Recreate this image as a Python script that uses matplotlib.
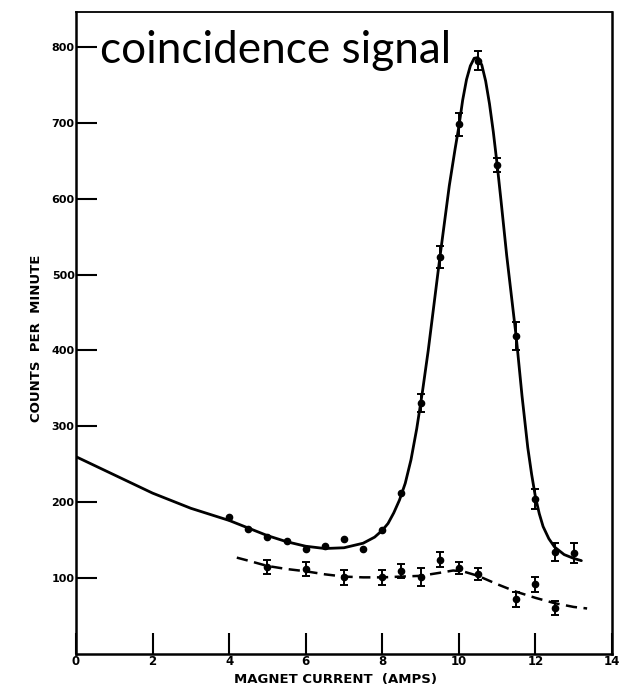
import matplotlib
matplotlib.use("Agg")
import matplotlib.pyplot as plt

# ---- data ----
# coincidence signal points (filled circles)
sig_x = [4, 4.5, 5, 5.5, 6, 6.5, 7, 7.5, 8, 8.5, 9, 9.5, 10, 10.5, 11, 11.5, 12, 12.5, 13]
sig_y = [180, 165, 154, 149, 138, 142, 152, 138, 163, 212, 331, 523, 698, 782, 644, 419, 204, 134, 133]
# points with error bars (x >= 9)
sig_err_x = [9, 9.5, 10, 10.5, 11, 11.5, 12, 12.5, 13]
sig_err_y = [331, 523, 698, 782, 644, 419, 204, 134, 133]
sig_err = [12, 14, 15, 13, 9, 19, 13, 12, 13]

# background points (dashed curve)
bg_x = [5, 6, 7, 8, 8.5, 9, 9.5, 10, 10.5, 11.5, 12, 12.5]
bg_y = [115, 112, 101, 101, 109, 101, 124, 113, 105, 72, 92, 61]
bg_err = [9, 9, 10, 10, 9, 12, 10, 8, 8, 10, 10, 9]

# hand-drawn fitted curves
fit_x = [0, 1, 2, 3, 4, 4.5, 5, 5.5, 6, 6.5, 7, 7.5, 7.8, 8, 8.15, 8.3, 8.45, 8.6,
         8.75, 8.9, 9.05, 9.2, 9.5, 9.75, 9.9, 10, 10.1, 10.2, 10.3, 10.4, 10.5,
         10.6, 10.7, 10.8, 10.9, 11, 11.1, 11.25, 11.5, 11.65, 11.8, 11.9, 12, 12.1,
         12.2, 12.35, 12.5, 12.75, 13, 13.2]
fit_y = [260, 236, 212, 192, 176, 166, 156, 148, 142, 139, 140, 146, 154, 163, 172,
         186, 203, 225, 256, 297, 346, 400, 521, 617, 665, 695, 730, 757, 775, 785,
         786, 776, 755, 725, 688, 645, 598, 525, 417, 340, 272, 237, 207, 185, 168,
         152, 141, 131, 126, 123]
bgfit_x = [4.2, 4.5, 5, 5.5, 6, 6.5, 7, 7.5, 8, 8.5, 9, 9.5, 9.85, 10.1, 10.5, 11,
           11.5, 12, 12.5, 13, 13.35]
bgfit_y = [127, 123, 116, 112, 109, 105, 102, 101, 101, 102, 103, 107, 110, 109, 103,
           92, 82, 74, 67, 62, 60]

x_ticks = [0, 2, 4, 6, 8, 10, 12, 14]
y_ticks = [100, 200, 300, 400, 500, 600, 700, 800]

# ---- figure ----
W, H = 625, 693
fig = plt.figure(figsize=(W / 100, H / 100), dpi=100)
L, R, T, B = 76, 612, 12, 654
ax = fig.add_axes([L / W, (H - B) / H, (R - L) / W, (B - T) / H])

ax.plot(fit_x, fit_y, color="black", lw=2.0, solid_capstyle="round",
        solid_joinstyle="round")
ax.plot(bgfit_x, bgfit_y, color="black", lw=1.8, dashes=(4.5, 2.6))

ax.plot(sig_x, sig_y, "o", color="black", ms=4.5)
ax.errorbar(sig_err_x, sig_err_y, yerr=sig_err, fmt="none", ecolor="black",
            elinewidth=1.4, capsize=3, capthick=1.4)
ax.errorbar(bg_x, bg_y, yerr=bg_err, fmt="o", color="black", ms=4.5,
            elinewidth=1.4, capsize=3, capthick=1.4)

ax.set_xlim(0, 14)
ax.set_ylim(0, 846)
ax.set_xticks(x_ticks)
ax.set_yticks(y_ticks)
ax.set_xticklabels([str(t) for t in x_ticks], fontsize=8.5, fontweight="bold")
ax.set_yticklabels([str(t) for t in y_ticks], fontsize=8, fontweight="bold")
ax.tick_params(axis="both", direction="in", length=15, width=1.5, color="black")
ax.tick_params(axis="x", pad=1)
ax.tick_params(axis="y", pad=1)
for s in ax.spines.values():
    s.set_linewidth(1.8)
ax.spines["top"].set_linewidth(1.3)

ax.set_xlabel("MAGNET CURRENT  (AMPS)", fontsize=9.5, fontweight="bold")
ax.xaxis.set_label_coords((335 - L) / (R - L), -0.03)
ax.set_ylabel("COUNTS  PER  MINUTE", fontsize=9.5, fontweight="bold")
ax.yaxis.set_label_coords(-(L - 43) / (R - L), (B - 338) / (B - T))

fig.text(100 / W, (H - 63) / H, "coincidence signal", fontsize=31.8,
         family=["Lato", "DejaVu Sans"], va="baseline", ha="left", color="black")

fig.savefig("out.png", dpi=100)
